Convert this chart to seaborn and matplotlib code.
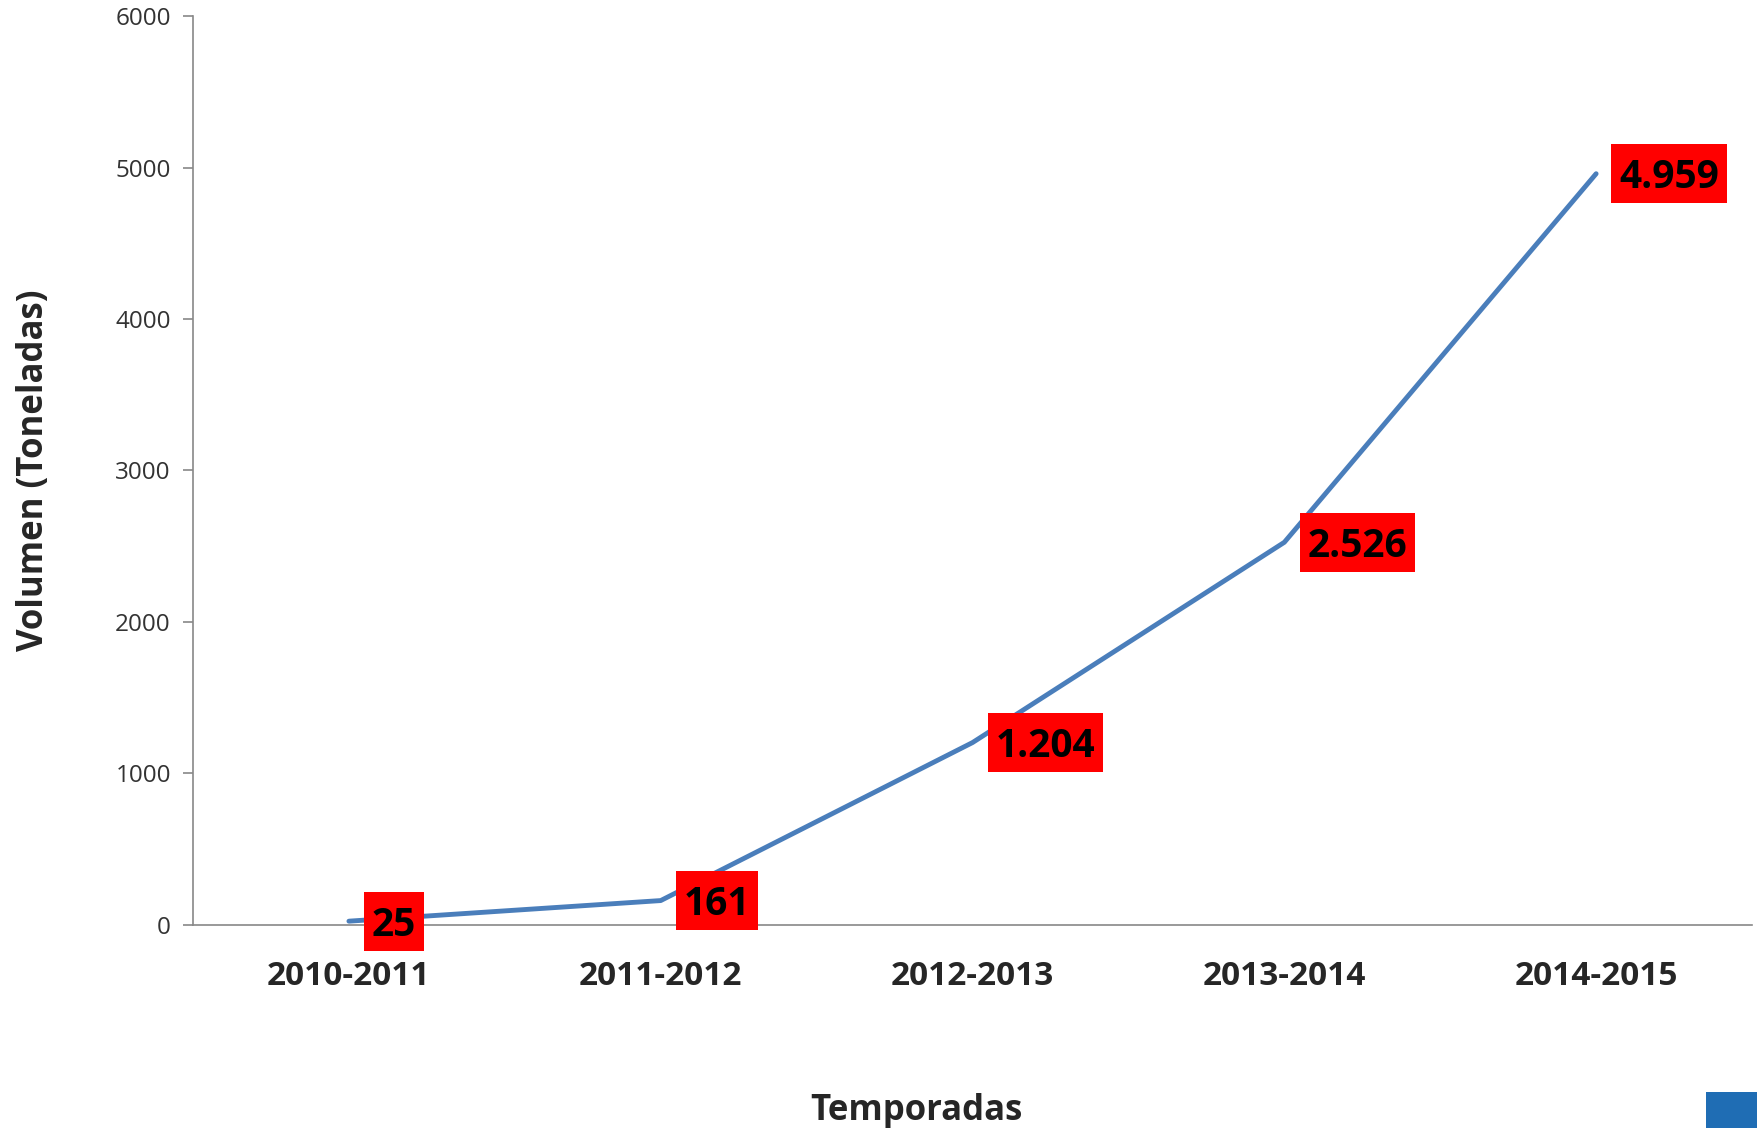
import matplotlib
matplotlib.use("Agg")
import matplotlib.pyplot as plt
import seaborn as sns
import pandas as pd
from matplotlib.patches import Rectangle
from matplotlib.path import Path
from matplotlib.transforms import offset_copy

temporadas = ["2010-2011", "2011-2012", "2012-2013", "2013-2014", "2014-2015"]
volumen = [25, 161, 1204, 2526, 4959]
etiquetas = ["25", "161", "1.204", "2.526", "4.959"]
yticks = [0, 1000, 2000, 3000, 4000, 5000, 6000]

sns.set_style("white")
plt.rcParams['font.family'] = ['Open Sans', 'DejaVu Sans']

df = pd.DataFrame({"idx": range(len(temporadas)), "temporada": temporadas, "volumen": volumen})

fig = plt.figure(figsize=(17.58, 11.28), dpi=100)
ax = fig.add_axes([0.1098, 0.18, 0.8868, 0.8058])

sns.lineplot(data=df, x="idx", y="volumen", ax=ax, color="#4A7EBB", linewidth=3.5,
             solid_capstyle="round")

ax.set_xlim(-0.5, len(temporadas) - 0.5)
ax.set_ylim(0, 6000)
ax.set_yticks(yticks)
ax.set_yticklabels([str(v) for v in yticks], fontsize=17.5, color="#333333")
ax.set_xticks(range(len(temporadas)))
ax.set_xticklabels(temporadas, fontsize=24, fontweight="bold")
ax.set_xticks([i - 0.5 for i in range(len(temporadas) + 1)], minor=True)
ax.tick_params(axis="x", which="major", length=0, pad=25)
ax.tick_params(axis="x", which="minor", length=10, width=1.2, color="#888888", direction="out")
ax.tick_params(axis="y", length=7, width=1.2, color="#888888", direction="out", pad=9, left=True)

for s in ["top", "right"]:
    ax.spines[s].set_visible(False)
for s in ["left", "bottom"]:
    ax.spines[s].set_color("#888888")
    ax.spines[s].set_linewidth(1.2)

ax.set_xlabel("Temporadas", fontsize=25, fontweight="bold")
ax.xaxis.label.set_va("center")
ax.xaxis.set_label_coords(0.4638, -0.205)
ax.set_ylabel("Volumen (Toneladas)", fontsize=25, fontweight="bold")
ax.yaxis.label.set_va("center")
ax.yaxis.set_label_coords(-0.1017, 0.5)


def red_box(x0, y0, width, height, mutation_size):
    px = 0.2 * mutation_size
    x1, y1 = x0 - px, y0 - 0.16 * mutation_size
    x2, y2 = x0 + width + px, y0 + height + 0.36 * mutation_size
    return Path([(x1, y1), (x2, y1), (x2, y2), (x1, y2), (x1, y1)], closed=True)


for i, (v, t) in enumerate(zip(volumen, etiquetas)):
    tr = offset_copy(ax.transData, fig=fig, x=23, y=-4, units="dots")
    ax.text(i, v, t, transform=tr, ha="left", va="center", fontsize=28, fontweight="bold",
            color="black", zorder=5,
            bbox=dict(boxstyle=red_box, facecolor="#FF0000", edgecolor="none"))

fig.patches.append(Rectangle((1706 / 1758, 0), 52 / 1758, 36 / 1128, transform=fig.transFigure,
                             facecolor="#1F6DB4", edgecolor="none"))

fig.savefig("out.png", dpi=100)
